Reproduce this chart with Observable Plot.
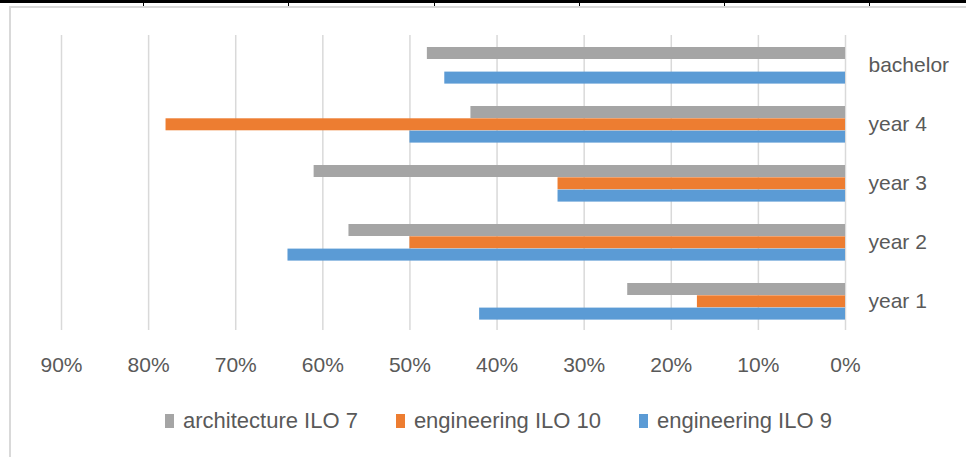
<!DOCTYPE html>
<html>
<head>
<meta charset="utf-8">
<script src="https://cdn.jsdelivr.net/npm/d3@7"></script>
<script src="https://cdn.jsdelivr.net/npm/@observablehq/plot@0.6"></script>
<style>
  html, body { margin: 0; padding: 0; background: #fff; }
  #page { position: relative; width: 966px; height: 457px; overflow: hidden; font-family: "Liberation Sans", Arial, sans-serif; }
  #topline { position: absolute; left: 0; top: 0; width: 966px; height: 3px; background: #000; }
  .tick { position: absolute; top: 0; width: 1px; height: 6px; background: #000; }
  #frame { position: absolute; left: 9px; top: 6px; width: 980px; height: 470px; border-left: 2px solid #d9d9d9; border-top: 2px solid #d9d9d9; box-sizing: border-box; }
  #chart { position: absolute; left: 0; top: 0; }
  #legend { position: absolute; left: 165px; top: 408px; display: flex; gap: 38px; font-size: 22px; color: #595959; white-space: nowrap; }
  .item { display: flex; align-items: center; gap: 9px; }
  .sw { width: 9px; height: 14px; display: inline-block; }
</style>
</head>
<body>
<div id="page">
  <div id="topline"></div>
  <div id="frame"></div>
  <div id="chart"></div>
  <div id="legend"></div>
</div>
<script>
const categories = ["bachelor", "year 4", "year 3", "year 2", "year 1"];
const architectureILO7 = [0.48, 0.43, 0.61, 0.57, 0.25];
const engineeringILO10 = [null, 0.78, 0.33, 0.50, 0.17];
const engineeringILO9 = [0.46, 0.50, 0.33, 0.64, 0.42];
const xTicks = [0.9, 0.8, 0.7, 0.6, 0.5, 0.4, 0.3, 0.2, 0.1, 0];

const seriesNames = ["architecture ILO 7", "engineering ILO 10", "engineering ILO 9"];
const seriesColors = ["#a5a5a5", "#ed7d31", "#5b9bd5"];

// top decoration ticks (page decoration)
[143, 288, 434, 579, 724, 869].forEach(x => {
  const t = document.createElement("div");
  t.className = "tick"; t.style.left = x + "px";
  document.getElementById("page").appendChild(t);
});

const rows = (vals) => categories.map((c, i) => ({category: c, value: vals[i]})).filter(d => d.value != null);

const bar = (vals, color, top, bottom) => Plot.barX(rows(vals), {
  y: "category", x1: 0, x2: "value", fill: color, insetTop: top, insetBottom: bottom
});

const chart = Plot.plot({
  width: 966,
  height: 395,
  marginTop: 35,
  marginBottom: 65,
  marginLeft: 61,
  marginRight: 121,
  style: { fontFamily: '"Liberation Sans", Arial, sans-serif', fontSize: "21px", color: "#595959", background: "transparent" },
  x: { domain: [0, 0.9], reverse: true, ticks: xTicks, tickFormat: d3.format(".0%") },
  y: { domain: categories, padding: 0 },
  marks: [
    Plot.gridX(xTicks, { stroke: "#d9d9d9", strokeOpacity: 1, strokeWidth: 1.5 }),
    Plot.axisX(xTicks, { tickSize: 0, tickPadding: 27, tickFormat: d3.format(".0%"), label: null, fill: "#595959" }),
    Plot.axisY({ anchor: "right", tickSize: 0, tickPadding: 23, label: null, fill: "#595959" }),
    bar(architectureILO7, seriesColors[0], 12, 35),
    bar(engineeringILO10, seriesColors[1], 24.3, 22.7),
    bar(engineeringILO9, seriesColors[2], 36.6, 10.4)
  ]
});
document.getElementById("chart").appendChild(chart);

const legend = document.getElementById("legend");
seriesNames.forEach((n, i) => {
  const it = document.createElement("div");
  it.className = "item";
  it.innerHTML = `<span class="sw" style="background:${seriesColors[i]}"></span><span>${n}</span>`;
  legend.appendChild(it);
});
</script>
</body>
</html>
